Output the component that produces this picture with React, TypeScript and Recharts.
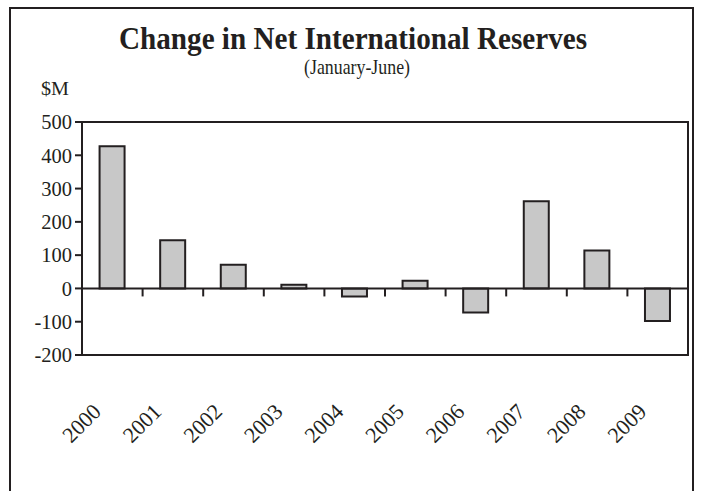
import React from "react";
import { BarChart, Bar, XAxis, YAxis, ReferenceLine, ReferenceArea } from "recharts";

const YEARS = ["2000", "2001", "2002", "2003", "2004", "2005", "2006", "2007", "2008", "2009"];
const CHANGE = [427, 145, 71, 11, -24, 23, -72, 262, 114, -98];
const Y_TICKS = [-200, -100, 0, 100, 200, 300, 400, 500];
const TITLE = "Change in Net International Reserves";
const SUBTITLE = "(January-June)";
const UNIT = "$M";

const data = YEARS.map((year, i) => ({ year, value: CHANGE[i] }));

const INK = "#231f20";
const FONT = "'Liberation Serif', 'Times New Roman', serif";

const XTick = (props: any) => {
  const { x, y, payload } = props;
  const ax = x - 10;
  const ay = y + 58;
  return (
    <text
      x={ax}
      y={ay}
      textAnchor="end"
      transform={`rotate(-45, ${ax}, ${ay})`}
      fontFamily={FONT}
      fontSize={22}
      fill={INK}
    >
      {payload.value}
    </text>
  );
};

const ZeroLine = (props: any) => {
  const { x1, y1, x2, y2 } = props;
  const n = YEARS.length;
  const ticks = [];
  for (let i = 1; i <= n; i++) {
    const tx = x1 + ((x2 - x1) * i) / n;
    ticks.push(<line key={i} x1={tx} x2={tx} y1={y1} y2={y1 + 8} stroke={INK} strokeWidth={2} />);
  }
  return (
    <g>
      <line x1={x1} y1={y1} x2={x2} y2={y2} stroke={INK} strokeWidth={2} />
      {ticks}
    </g>
  );
};

export default function App() {
  return (
    <div style={{ position: "absolute", left: 0, top: 0, width: 701, height: 491, background: "#fff", overflow: "hidden" }}>
      <BarChart
        width={701}
        height={491}
        data={data}
        margin={{ top: 122, right: 13, left: 0, bottom: 0 }}
        barCategoryGap="29%"
      >
        <XAxis
          dataKey="year"
          height={136}
          tickLine={false}
          axisLine={false}
          tickSize={0}
          tickMargin={0}
          interval={0}
          tick={<XTick />}
        />
        <YAxis
          width={82}
          domain={[Y_TICKS[0], Y_TICKS[Y_TICKS.length - 1]]}
          ticks={Y_TICKS}
          interval={0}
          axisLine={false}
          tickLine={{ stroke: INK, strokeWidth: 2 }}
          tickSize={7}
          tickMargin={3}
          tick={{ fontFamily: FONT, fontSize: 20.5, fill: INK }}
        />
        <ReferenceArea
          y1={Y_TICKS[0]}
          y2={Y_TICKS[Y_TICKS.length - 1]}
          fill="none"
          stroke={INK}
          strokeWidth={2}
          ifOverflow="visible"
        />
        <Bar dataKey="value" fill="#c8c8c8" stroke={INK} strokeWidth={2} isAnimationActive={false} />
        <ReferenceLine y={0} shape={<ZeroLine />} ifOverflow="visible" />
      </BarChart>
      <svg width={701} height={491} style={{ position: "absolute", left: 0, top: 0, pointerEvents: "none" }}>
        <rect x={10} y={8} width={683} height={520} fill="none" stroke={INK} strokeWidth={2} />
        <text
          x={353}
          y={49}
          textAnchor="middle"
          fontFamily={FONT}
          fontWeight="bold"
          fontSize={31}
          textLength={468}
          lengthAdjust="spacingAndGlyphs"
          fill={INK}
        >
          {TITLE}
        </text>
        <text
          x={357}
          y={74}
          textAnchor="middle"
          fontFamily={FONT}
          fontSize={21}
          textLength={106}
          lengthAdjust="spacingAndGlyphs"
          fill={INK}
        >
          {SUBTITLE}
        </text>
        <text x={41} y={95} fontFamily={FONT} fontSize={19} textLength={28} lengthAdjust="spacingAndGlyphs" fill={INK}>
          {UNIT}
        </text>
      </svg>
    </div>
  );
}
